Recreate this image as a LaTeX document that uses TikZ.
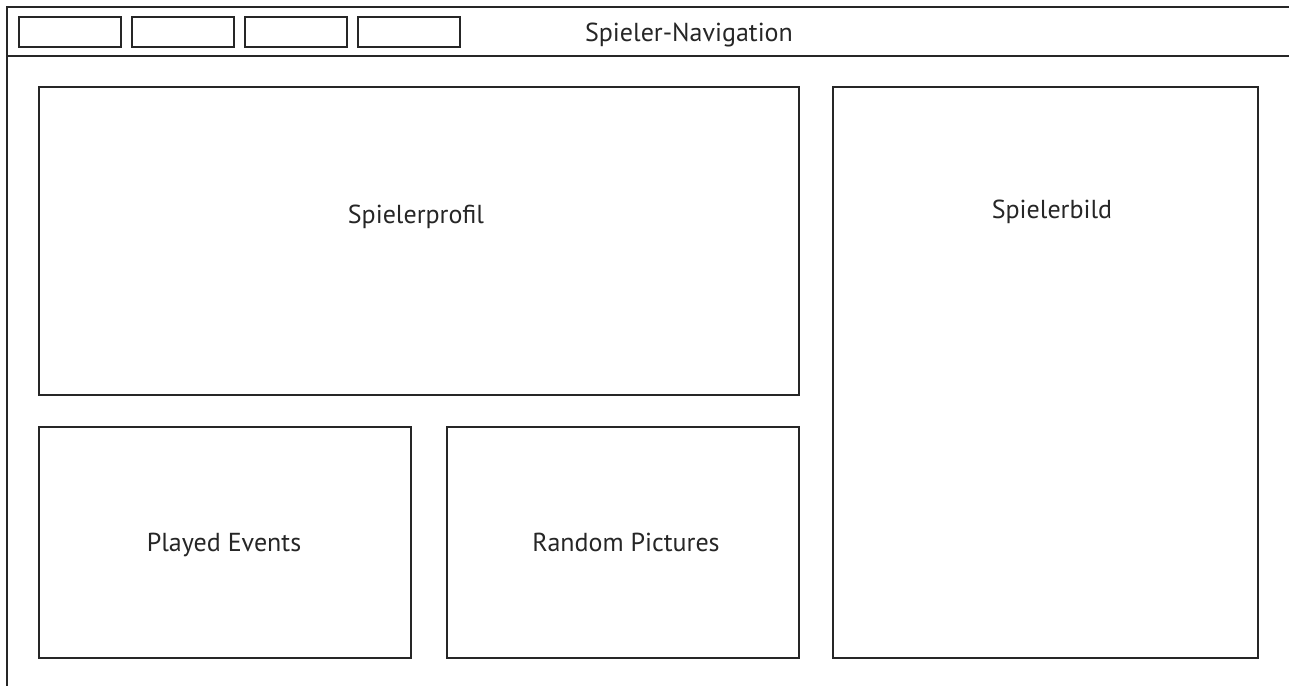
\documentclass[tikz,border=0pt]{standalone}
\usepackage{fontspec}
\setmainfont{PT Sans}
\usetikzlibrary{positioning}

\begin{document}
\begin{tikzpicture}[x=0.02cm, y=-0.02cm, line width=1.2pt]
  \tikzset{
    frame/.style={draw=black!85},
    label/.style={font=\fontsize{14.8}{17}\selectfont, text=black!85,
      text height=0.72em, text depth=0.22em}
  }
  % Page size 1289 x 686 px
  \useasboundingbox (0,0) rectangle (1289,686);

  % Window frame and navigation bar
  \draw[frame] (1289,7) -- (7,7) -- (7,686);
  \draw[frame] (7,56) -- (1289,56);

  % Navigation buttons
  \foreach \i in {0,1,2,3} {
    \draw[frame] (19+113*\i,17) rectangle (121+113*\i,47);
  }
  \node[label] (nav) at (689,37) {Spieler-Navigation};

  % Content panels
  \draw[frame] (39,87) rectangle (799,395);
  \node[label] (profil) at (416,219) {Spielerprofil};

  \draw[frame] (833,87) rectangle (1258,658);
  \node[label] (bild) at (1052,214) {Spielerbild};

  \draw[frame] (39,427) rectangle (411,658);
  \node[label] (events) at (224,547) {Played Events};

  \draw[frame] (447,427) rectangle (799,658);
  \node[label] (pictures) at (626,547) {Random Pictures};
\end{tikzpicture}
\end{document}
